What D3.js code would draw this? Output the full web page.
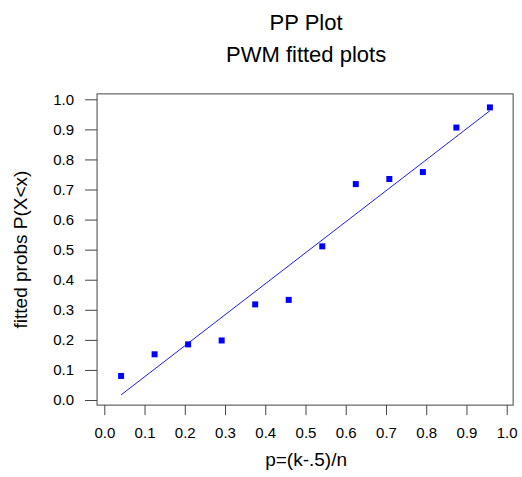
<!doctype html>
<meta charset="utf-8">
<style>
body { margin: 0; background: #fff; }
svg text { font-family: "Liberation Sans", Arial, sans-serif; fill: #000; }
</style>
<body>
<div id="viz"></div>
<script src="https://cdn.jsdelivr.net/npm/d3@7"></script>
<script>
// PP plot values
var pX = [0.0417, 0.125, 0.2083, 0.2917, 0.375, 0.4583, 0.5417, 0.625, 0.7083, 0.7917, 0.875, 0.9583];
var fitY = [0.080, 0.152, 0.185, 0.198, 0.318, 0.333, 0.511, 0.718, 0.735, 0.758, 0.906, 0.973];
// fitted reference line
var lineX = [0.0417, 0.9583];
var lineY = [0.017, 0.962];
var ticks = [0, 0.1, 0.2, 0.3, 0.4, 0.5, 0.6, 0.7, 0.8, 0.9, 1.0];

var W = 522, H = 477;
var svg = d3.select("#viz").append("svg").attr("width", W).attr("height", H);

var x = d3.scaleLinear().domain([0, 1]).range([104.3, 506.7]);
var y = d3.scaleLinear().domain([0, 1]).range([400, 99.3]);

// plot box, a little wider than the data range
var x0 = x(-0.018), x1 = x(1.016), y0 = y(-0.017), y1 = y(1.018);
svg.append("rect")
    .attr("x", x0).attr("y", y1)
    .attr("width", x1 - x0).attr("height", y0 - y1)
    .attr("fill", "none").attr("stroke", "#444").attr("stroke-width", 1);

var fmt = d3.format(".1f");
var xa = svg.append("g").attr("transform", "translate(0," + y0 + ")")
    .call(d3.axisBottom(x).tickValues(ticks).tickFormat(fmt).tickSize(10).tickPadding(12));
var ya = svg.append("g").attr("transform", "translate(" + x0 + ",0)")
    .call(d3.axisLeft(y).tickValues(ticks).tickFormat(fmt).tickSize(12).tickPadding(11));
[xa, ya].forEach(function(g) {
    g.select(".domain").remove();
    g.selectAll("line").attr("stroke", "#444");
    g.selectAll("text").attr("font-size", 15).attr("font-family", "Liberation Sans, Arial, sans-serif").attr("fill", "#000");
});

// fitted line
var pts = lineX.map(function(v, i) { return [v, lineY[i]]; });
svg.append("path")
    .attr("d", d3.line().x(function(d) { return x(d[0]); }).y(function(d) { return y(d[1]); })(pts))
    .attr("fill", "none").attr("stroke", "#1a1aff").attr("stroke-width", 1);

// points
svg.selectAll("rect.pt").data(pX).enter().append("rect").attr("class", "pt")
    .attr("x", function(d) { return x(d) - 3; })
    .attr("y", function(d, i) { return y(fitY[i]) - 3; })
    .attr("width", 6).attr("height", 6)
    .attr("fill", "#0000ff");

var cx = (x0 + x1) / 2;
svg.append("text").attr("x", cx + 1).attr("y", 30).attr("text-anchor", "middle").attr("font-size", 22).text("PP Plot");
svg.append("text").attr("x", cx + 1).attr("y", 62).attr("text-anchor", "middle").attr("font-size", 22).text("PWM fitted plots");
svg.append("text").attr("x", cx + 1).attr("y", 466).attr("text-anchor", "middle").attr("font-size", 19).text("p=(k-.5)/n");
svg.append("text").attr("transform", "translate(27," + ((y0 + y1) / 2) + ") rotate(-90)")
    .attr("text-anchor", "middle").attr("font-size", 19).text("fitted probs P(X<x)");
</script>
</body>
